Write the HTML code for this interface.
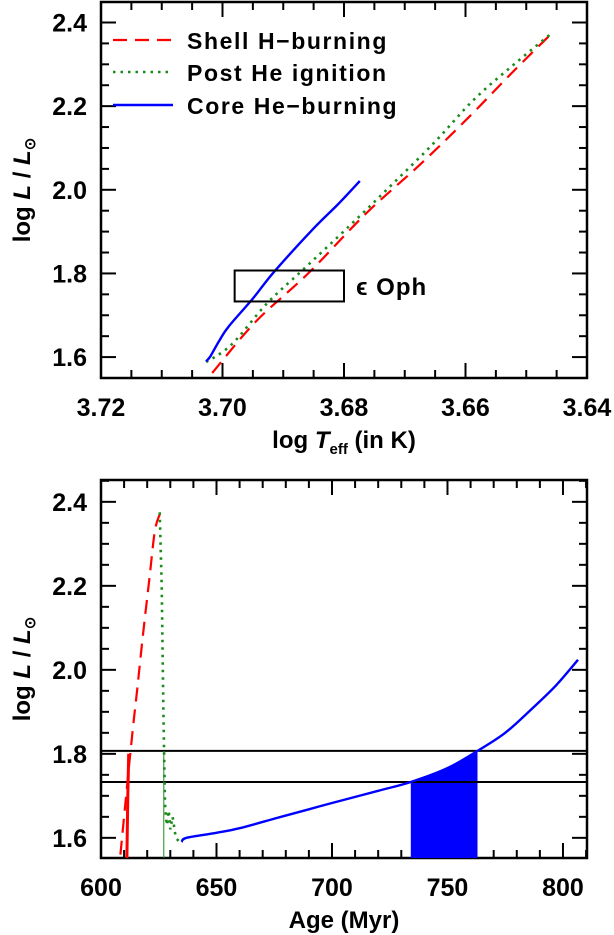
<!DOCTYPE html>
<html><head><meta charset="utf-8"><style>
html,body{margin:0;padding:0;background:#fff;}
svg{display:block;font-family:"Liberation Sans",sans-serif;}
</style></head><body>
<svg id="c" width="614" height="935" viewBox="0 0 614 935" xmlns="http://www.w3.org/2000/svg"></svg>
<script>
// ---- top panel data (HR diagram) ----
const shellT=[3.7017,3.6945,3.6859,3.6764,3.6675,3.6593,3.6520,3.6456];
const shellL=[1.562,1.685,1.800,1.943,2.060,2.176,2.285,2.377];
const postT=[3.7027,3.6985,3.6927,3.6869,3.6790,3.6720,3.6650,3.6586,3.6520,3.6456];
const postL=[1.588,1.630,1.728,1.807,1.915,2.014,2.115,2.216,2.300,2.377];
const coreT=[3.7027,3.7020,3.7005,3.6990,3.6950,3.6915,3.6851,3.6810,3.6774];
const coreL=[1.590,1.602,1.640,1.673,1.740,1.804,1.906,1.965,2.021];
const boxT=[3.6980,3.6800];
const boxL=[1.733,1.807];
const topXTicks=["3.72","3.70","3.68","3.66","3.64"];
const yTicks=["1.6","1.8","2.0","2.2","2.4"];
// ---- bottom panel data (age) ----
const shellAge=[608.4,610.5,612.3,614.0,615.7,618.3,620.8,623.3,625.4];
const shellAgeL=[1.560,1.680,1.780,1.870,1.955,2.090,2.209,2.330,2.370];
const postAge=[625.4,626.3,627.0,627.7,628.5,629.3,630.0,631.0,632.4,634.0,636.0];
const postAgeL=[2.375,2.200,1.900,1.680,1.630,1.665,1.620,1.650,1.600,1.590,1.598];
const coreAge=[634.9,637.0,650.0,660.0,675.3,690.0,700.0,720.0,734.1,750.0,763.0,775.0,786.1,797.0,806.5];
const coreAgeL=[1.590,1.600,1.612,1.623,1.646,1.668,1.683,1.712,1.733,1.766,1.807,1.850,1.905,1.963,2.024];
const hLines=[1.807,1.733];
const fillRange=[734.1,763.0];
const botXTicks=["600","650","700","750","800"];

const NS="http://www.w3.org/2000/svg";
const svg=document.getElementById('c');
function mk(t,a,p){const e=document.createElementNS(NS,t);for(const k in a)e.setAttribute(k,a[k]);(p||svg).appendChild(e);return e;}

const P1={x0:101,x1:587,y0:378,y1:2, xmin:3.72,xmax:3.64, ymin:1.55,ymax:2.449};
const P2={x0:101,x1:587,y0:858,y1:480, xmin:600,xmax:810.4, ymin:1.552,ymax:2.452};
function sx(P,v){return P.x0+(v-P.xmin)/(P.xmax-P.xmin)*(P.x1-P.x0);}
function sy(P,v){return P.y0-(v-P.ymin)/(P.ymax-P.ymin)*(P.y0-P.y1);}

function frame(P,name,xminor,xmajor,xstart,xlabels,xt){
  const g=mk('g',{});
  
  
  mk('rect',{x:P.x0,y:P.y1,width:P.x1-P.x0,height:P.y0-P.y1,fill:'none',stroke:'#000','stroke-width':2.5},g);
  const lo=Math.min(P.xmin,P.xmax),hi=Math.max(P.xmin,P.xmax);
  for(let i=0;;i++){const v=xstart+i*xminor; if(v>hi+1e-9)break; if(v<lo-1e-9)continue;
    const major=Math.abs(Math.round((v-xstart)/xmajor)*xmajor-(v-xstart))<1e-6;
    const L=major?15:8,x=sx(P,v);
    mk('line',{x1:x,x2:x,y1:P.y0,y2:P.y0-L,stroke:'#000','stroke-width':2},g);
    mk('line',{x1:x,x2:x,y1:P.y1,y2:P.y1+L,stroke:'#000','stroke-width':2},g);}
  for(let i=0;;i++){const v=1.55+i*0.05; if(v>P.ymax)break; if(v<P.ymin-1e-9)continue;
    const major=Math.abs(Math.round(v*5)-v*5)<1e-6; const L=major?15:8,y=sy(P,v);
    mk('line',{x1:P.x0,x2:P.x0+L,y1:y,y2:y,stroke:'#000','stroke-width':2},g);
    mk('line',{x1:P.x1,x2:P.x1-L,y1:y,y2:y,stroke:'#000','stroke-width':2},g);}
  yTicks.forEach(s=>{const t=mk('text',{x:P.x0-14,y:sy(P,+s)+9,'text-anchor':'end','font-size':25,'font-weight':'bold'},g);t.textContent=s;
    });
  xlabels.forEach(s=>{const t=mk('text',{x:sx(P,+s),y:P.y0+38,'text-anchor':'middle','font-size':25,'font-weight':'bold'},g);t.textContent=s;
    });
  const yl=mk('text',{transform:`translate(30,${(P.y0+P.y1)/2}) rotate(-90)`,'text-anchor':'middle','font-size':24,'font-weight':'bold'},g);
  yl.innerHTML='log <tspan font-style="italic">L</tspan> / <tspan font-style="italic">L</tspan><tspan font-size="15" dy="5">⊙</tspan>';
  
  const xl=mk('text',{x:(P.x0+P.x1)/2,y:P.y0+70,'text-anchor':'middle','font-size':24,'font-weight':'bold'},g);
  xl.innerHTML=xt;
  
}
frame(P1,'hr',0.005,0.02,3.64,topXTicks,'log <tspan font-style="italic">T</tspan><tspan font-size="15" dy="6">eff</tspan><tspan dy="-6"> (in K)</tspan>');
frame(P2,'age',10,50,600,botXTicks,'Age (Myr)');

function smoothPath(p){
  let d='M'+p[0][0].toFixed(1)+','+p[0][1].toFixed(1);
  for(let i=0;i<p.length-1;i++){
    const p0=p[Math.max(i-1,0)],p1=p[i],p2=p[i+1],p3=p[Math.min(i+2,p.length-1)];
    const c1=[p1[0]+(p2[0]-p0[0])/6,p1[1]+(p2[1]-p0[1])/6];
    const c2=[p2[0]-(p3[0]-p1[0])/6,p2[1]-(p3[1]-p1[1])/6];
    d+=' C'+c1.map(v=>v.toFixed(1)).join(',')+' '+c2.map(v=>v.toFixed(1)).join(',')+' '+p2[0].toFixed(1)+','+p2[1].toFixed(1);
  }
  return d;
}
function line(P,xs,ys,style,name,smooth){
  const pts=xs.map((v,i)=>[sx(P,v),sy(P,ys[i])]);
  const d=smooth?smoothPath(pts):pts.map((p,i)=>(i?'L':'M')+p[0].toFixed(1)+','+p[1].toFixed(1)).join(' ');
  const e=mk('path',Object.assign({d:d,fill:'none','stroke-width':2.2},style));
  
  
  return e;
}
const RED={stroke:'#f00','stroke-dasharray':'14,8'}, GRN={stroke:'#1a8a1a','stroke-dasharray':'2.5,5','stroke-width':2.6}, BLU={stroke:'#00f','stroke-width':2.4};

// top panel
line(P1,shellT,shellL,RED,'shell-h-burning-track',true);
line(P1,postT,postL,GRN,'post-he-ignition-track',true);
line(P1,coreT,coreL,BLU,'core-he-burning-track',true);
const bx=mk('rect',{x:sx(P1,boxT[0]),y:sy(P1,boxL[1]),width:sx(P1,boxT[1])-sx(P1,boxT[0]),height:sy(P1,boxL[0])-sy(P1,boxL[1]),fill:'none',stroke:'#000','stroke-width':2});

const bt=mk('text',{x:sx(P1,boxT[1])+12,y:(sy(P1,boxL[0])+sy(P1,boxL[1]))/2+9,'font-size':24,'font-weight':'bold','letter-spacing':'1'});bt.textContent='ϵ Oph';

// legend
[['Shell H\u2212burning',RED,35],['Post He ignition',GRN,67],['Core He\u2212burning',BLU,100]].forEach(([s,st,y],i)=>{
  const g=mk('g',{});
  
  
  mk('line',Object.assign({x1:113,x2:173,y1:y+5,y2:y+5,'stroke-width':2.2},st),g);
  const t=mk('text',{x:187,y:y+14,'font-size':23,'font-weight':'bold','letter-spacing':'1.6'},g);t.textContent=s;
});

// bottom panel
const lo=fillRange[0],hi=fillRange[1];
function interp(a){for(let i=1;i<coreAge.length;i++)if(a<=coreAge[i]){const t=(a-coreAge[i-1])/(coreAge[i]-coreAge[i-1]);return coreAgeL[i-1]+t*(coreAgeL[i]-coreAgeL[i-1]);}return coreAgeL[coreAgeL.length-1];}
let pts=[[lo,P2.ymin],[lo,interp(lo)]];
coreAge.forEach((a,i)=>{if(a>lo&&a<hi)pts.push([a,coreAgeL[i]]);});
pts.push([hi,interp(hi)],[hi,P2.ymin]);
const fp=mk('polygon',{points:pts.map(p=>sx(P2,p[0]).toFixed(1)+','+sy(P2,p[1]).toFixed(1)).join(' '),fill:'#00f'});

hLines.forEach(v=>{const l=mk('line',{x1:P2.x0,x2:P2.x1,y1:sy(P2,v),y2:sy(P2,v),stroke:'#000','stroke-width':2});
  });
line(P2,shellAge,shellAgeL,RED,'shell-h-burning-age-track',true);
line(P2,[611.2,611.6,612.0],[1.552,1.700,1.800],{stroke:'#f00','stroke-width':3},'shell-h-burning-dense-segment');
line(P2,[627.2,627.2],[1.552,1.807],{stroke:'#1a8a1a','stroke-width':1},'post-he-ignition-marker');
line(P2,postAge,postAgeL,GRN,'post-he-ignition-age-track');
line(P2,coreAge,coreAgeL,BLU,'core-he-burning-age-track',true);
</script>
</body></html>
